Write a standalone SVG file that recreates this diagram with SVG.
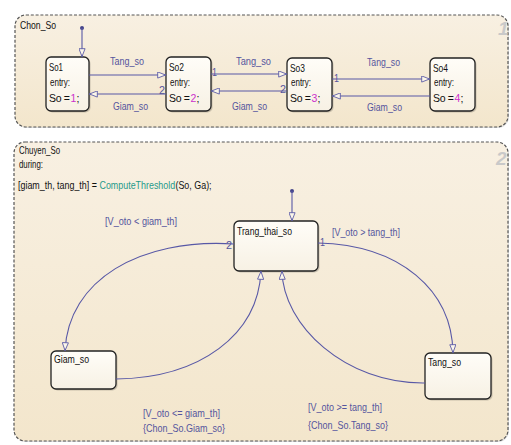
<svg xmlns="http://www.w3.org/2000/svg" width="511" height="445" viewBox="0 0 511 445">
<style>
text{font-family:"Liberation Sans",Arial,sans-serif;font-size:11px;fill:#111}
.eq{font-size:10.5px;letter-spacing:-0.3px}
.lbl{fill:#55559e}
.num{fill:#cc30cc}
.fn{fill:#1f9a8a}
.big{font-size:19px;font-style:italic;font-weight:bold;fill:#c9c9c9}
.cont{stroke:#555;stroke-width:1.2;stroke-dasharray:3 1.8}
.node{fill:url(#ng);stroke:#222;stroke-width:1.3}
.sh{fill:#000;opacity:.18}
.con{fill:none;stroke:#5858a6;stroke-width:1.1;marker-end:url(#ah)}
.dot{fill:#44448a}
</style>
<defs>
<linearGradient id="cg" x1="0" y1="0" x2="0" y2="1"><stop offset="0" stop-color="#f8f0e2"/><stop offset="1" stop-color="#f3e6cc"/></linearGradient>
<linearGradient id="ng" x1="0" y1="0" x2="0" y2="1"><stop offset="0" stop-color="#fffdf8"/><stop offset="1" stop-color="#f7f1e4"/></linearGradient>
<marker id="ah" viewBox="0 0 10 8" refX="10" refY="4" markerWidth="9" markerHeight="7" markerUnits="userSpaceOnUse" orient="auto"><path d="M0.5,0.5 L9.5,4 L0.5,7.5 Z" fill="#fbf6ea" stroke="#5858a6" stroke-width="1"/></marker>
</defs>
<rect width="511" height="445" fill="#ffffff"/>
<g id="Chon_So">
<rect x="16" y="16" width="493" height="112" rx="11" fill="#000" opacity=".12"/>
<rect class="cont" x="15" y="15" width="493" height="112" rx="11" fill="url(#cg)"/>
<text x="20" y="29" textLength="36" lengthAdjust="spacingAndGlyphs">Chon_So</text>
<text class="big" x="498" y="35">1</text>
</g>
<g id="Chuyen_So">
<rect x="15" y="143" width="494" height="299" rx="11" fill="#000" opacity=".12"/>
<rect class="cont" x="14" y="142" width="494" height="299" rx="11" fill="url(#cg)"/>
<text x="19" y="154" textLength="41" lengthAdjust="spacingAndGlyphs">Chuyen_So</text>
<text x="19" y="168" textLength="24" lengthAdjust="spacingAndGlyphs">during:</text>
<g transform="translate(18,189) scale(0.81,1)">
<text x="0" y="0">[giam_th, tang_th] =</text>
<text class="fn" x="100.6" y="0">ComputeThreshold</text>
<text x="194.4" y="0">(So, Ga);</text>
</g>
<text class="big" x="496" y="165">2</text>
</g>
<g id="So1">
<rect class="sh" x="47.5" y="58.5" width="43" height="54" rx="5"/>
<rect class="node" x="46" y="57" width="43" height="54" rx="5"/>
<text x="49" y="71" textLength="14" lengthAdjust="spacingAndGlyphs">So1</text>
<text x="50" y="86" textLength="20" lengthAdjust="spacingAndGlyphs">entry:</text>
<text class="eq" x="49" y="102">So =</text>
<text class="eq num" x="70.5" y="102">1</text>
<text class="eq" x="76.5" y="102">;</text>
</g>
<g id="So2">
<rect class="sh" x="167.5" y="58.5" width="45" height="54" rx="5"/>
<rect class="node" x="166" y="57" width="45" height="54" rx="5"/>
<text x="169" y="71" textLength="15" lengthAdjust="spacingAndGlyphs">So2</text>
<text x="170" y="86" textLength="20" lengthAdjust="spacingAndGlyphs">entry:</text>
<text class="eq" x="169" y="102">So =</text>
<text class="eq num" x="190.5" y="102">2</text>
<text class="eq" x="196.5" y="102">;</text>
</g>
<g id="So3">
<rect class="sh" x="288.5" y="59.5" width="45" height="53" rx="5"/>
<rect class="node" x="287" y="58" width="45" height="53" rx="5"/>
<text x="290" y="72" textLength="15" lengthAdjust="spacingAndGlyphs">So3</text>
<text x="291" y="86" textLength="20" lengthAdjust="spacingAndGlyphs">entry:</text>
<text class="eq" x="290" y="102">So =</text>
<text class="eq num" x="311.5" y="102">3</text>
<text class="eq" x="317.5" y="102">;</text>
</g>
<g id="So4">
<rect class="sh" x="431.5" y="59.5" width="45" height="53" rx="5"/>
<rect class="node" x="430" y="58" width="45" height="53" rx="5"/>
<text x="433" y="72" textLength="15" lengthAdjust="spacingAndGlyphs">So4</text>
<text x="434" y="86" textLength="20" lengthAdjust="spacingAndGlyphs">entry:</text>
<text class="eq" x="433" y="102">So =</text>
<text class="eq num" x="454.5" y="102">4</text>
<text class="eq" x="460.5" y="102">;</text>
</g>
<g id="Trang_thai_so">
<rect class="sh" x="235.5" y="222.5" width="84" height="50" rx="5"/>
<rect class="node" x="234" y="221" width="84" height="50" rx="5"/>
<text x="237" y="235" textLength="55" lengthAdjust="spacingAndGlyphs">Trang_thai_so</text>
</g>
<g id="Giam_so">
<rect class="sh" x="52.5" y="352.5" width="65" height="38" rx="5"/>
<rect class="node" x="51" y="351" width="65" height="38" rx="5"/>
<text x="54" y="363" textLength="35" lengthAdjust="spacingAndGlyphs">Giam_so</text>
</g>
<g id="Tang_so">
<rect class="sh" x="426.5" y="354.5" width="66" height="46" rx="5"/>
<rect class="node" x="425" y="353" width="66" height="46" rx="5"/>
<text x="428" y="366" textLength="33" lengthAdjust="spacingAndGlyphs">Tang_so</text>
</g>
<g id="connectors">
<circle class="dot" cx="82" cy="28" r="2"/>
<path class="con" d="M82 28 L82 57"/>
<path class="con" d="M89 75 L166 75"/>
<path class="con" d="M166 94 L89 94"/>
<path class="con" d="M211 74 L287 74"/>
<path class="con" d="M287 91 L211 91"/>
<path class="con" d="M332 79 L430 79"/>
<path class="con" d="M430 96 L332 96"/>
<text class="lbl" x="110" y="65" textLength="34" lengthAdjust="spacingAndGlyphs">Tang_so</text>
<text class="lbl" x="113" y="110" textLength="35" lengthAdjust="spacingAndGlyphs">Giam_so</text>
<text class="lbl" x="236" y="65" textLength="35" lengthAdjust="spacingAndGlyphs">Tang_so</text>
<text class="lbl" x="232" y="110" textLength="35" lengthAdjust="spacingAndGlyphs">Giam_so</text>
<text class="lbl" x="367" y="66" textLength="33" lengthAdjust="spacingAndGlyphs">Tang_so</text>
<text class="lbl" x="367" y="111" textLength="35" lengthAdjust="spacingAndGlyphs">Giam_so</text>
<text class="lbl" x="159" y="94" textLength="6" lengthAdjust="spacingAndGlyphs">2</text>
<text class="lbl" x="212" y="76" textLength="5" lengthAdjust="spacingAndGlyphs">1</text>
<text class="lbl" x="280" y="93" textLength="6" lengthAdjust="spacingAndGlyphs">2</text>
<text class="lbl" x="334" y="82" textLength="5" lengthAdjust="spacingAndGlyphs">1</text>
<circle class="dot" cx="292" cy="191" r="2"/>
<path class="con" d="M292 191 L292 221"/>
<path class="con" d="M234 244 C140 238 68 280 65 351"/>
<path class="con" d="M318 243 C400 245 452 290 453 353"/>
<path class="con" d="M116 379 C200 378 258 335 261 271"/>
<path class="con" d="M425 383 C345 384 283 325 282 271"/>
<text class="lbl" x="226" y="249" textLength="6" lengthAdjust="spacingAndGlyphs">2</text>
<text class="lbl" x="320" y="246" textLength="5" lengthAdjust="spacingAndGlyphs">1</text>
<text class="lbl" x="105" y="225" textLength="72" lengthAdjust="spacingAndGlyphs">[V_oto &lt; giam_th]</text>
<text class="lbl" x="332" y="236" textLength="68" lengthAdjust="spacingAndGlyphs">[V_oto &gt; tang_th]</text>
<text class="lbl" x="143" y="417" textLength="77" lengthAdjust="spacingAndGlyphs">[V_oto &lt;= giam_th]</text>
<text class="lbl" x="143" y="432" textLength="82" lengthAdjust="spacingAndGlyphs">{Chon_So.Giam_so}</text>
<text class="lbl" x="308" y="411" textLength="74" lengthAdjust="spacingAndGlyphs">[V_oto &gt;= tang_th]</text>
<text class="lbl" x="308" y="429" textLength="80" lengthAdjust="spacingAndGlyphs">{Chon_So.Tang_so}</text>
</g>
</svg>
